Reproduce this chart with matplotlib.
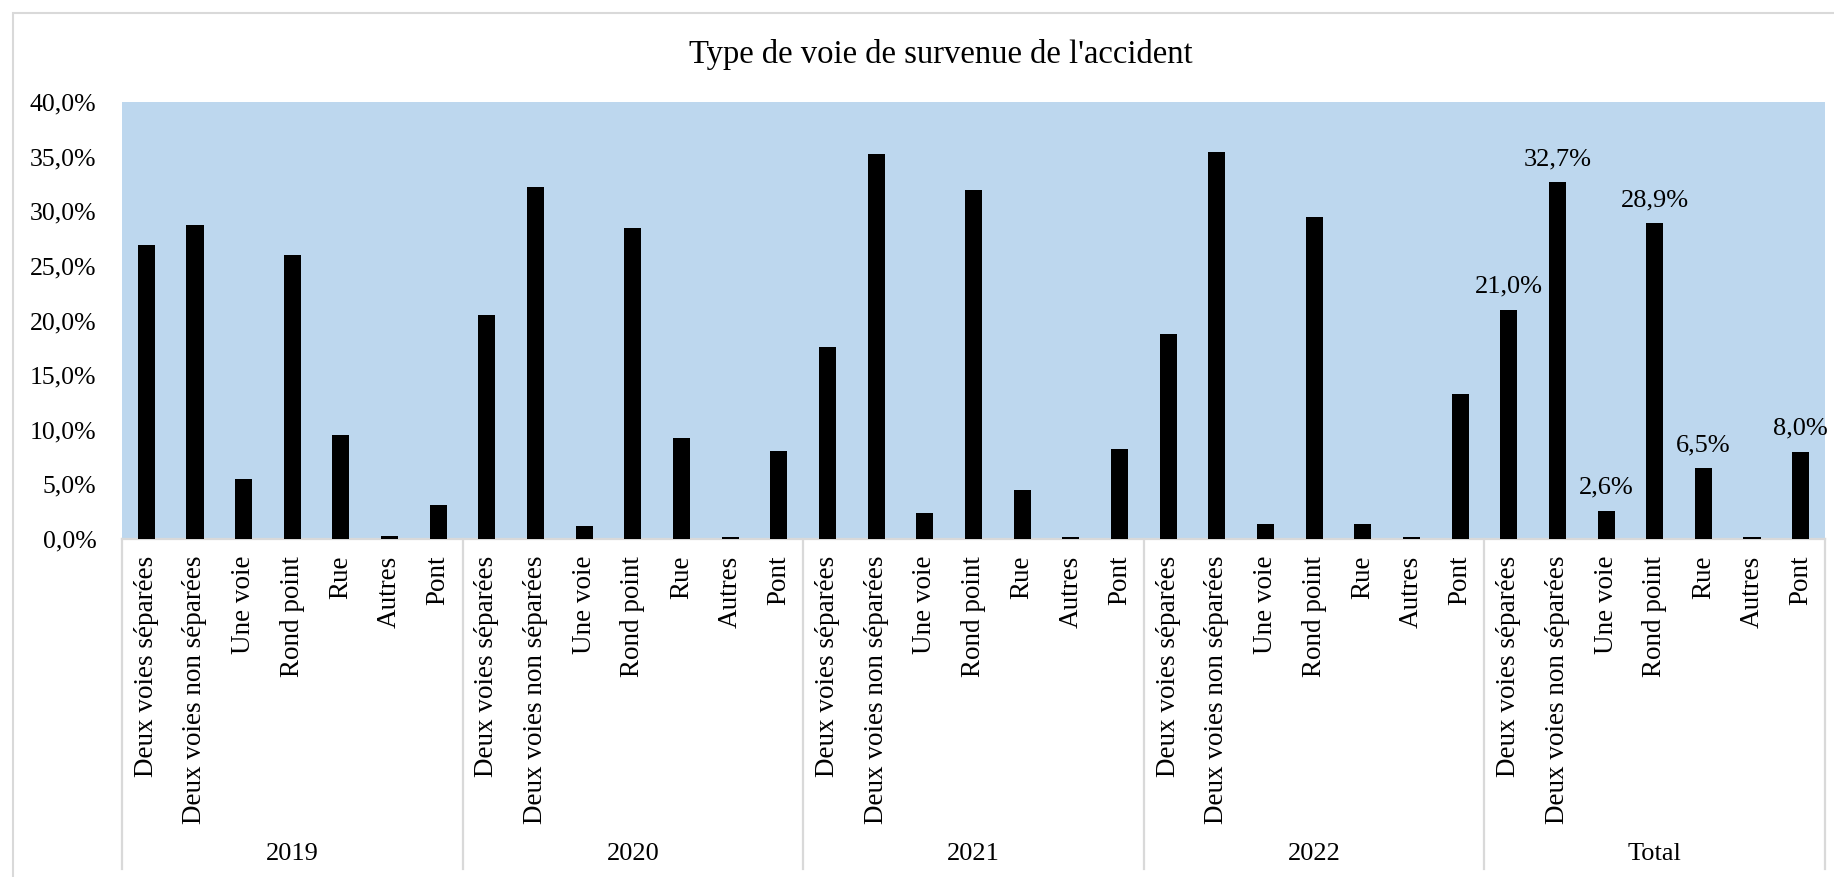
import numpy as np
import matplotlib.pyplot as plt
from matplotlib.patches import Rectangle
from matplotlib.ticker import FuncFormatter

# ---------------------------------------------------------------------------
# Données : répartition (%) des accidents selon le type de voie
# ---------------------------------------------------------------------------
categories = ['Deux voies séparées', 'Deux voies non séparées', 'Une voie',
              'Rond point', 'Rue', 'Autres', 'Pont']
annees = ['2019', '2020', '2021', '2022', 'Total']

v2019 = [26.9, 28.7, 5.5, 26.0, 9.5, 0.3, 3.1]
v2020 = [20.5, 32.2, 1.2, 28.5, 9.2, 0.2, 8.1]
v2021 = [17.6, 35.2, 2.4, 31.9, 4.5, 0.2, 8.2]
v2022 = [18.8, 35.4, 1.4, 29.5, 1.4, 0.2, 13.3]
v_total = [21.0, 32.7, 2.6, 28.9, 6.5, 0.2, 8.0]

# étiquettes de valeur affichées seulement pour le total (Autres omis)
etiq_total = [True, True, True, True, True, False, True]

# ---------------------------------------------------------------------------
plt.rcParams['font.family'] = ['Liberation Serif', 'DejaVu Serif']

series = [v2019, v2020, v2021, v2022, v_total]
valeurs = np.concatenate(series)
n_cat = len(categories)
x = np.arange(len(valeurs))
labels_x = categories * len(annees)

W, H, DPI = 1834, 877, 100
fig = plt.figure(figsize=(W / DPI, H / DPI), dpi=DPI)
ax = fig.add_axes([122 / W, 1 - 539 / H, (1825 - 122) / W, (539 - 102) / H])

ax.set_facecolor('#BDD7EE')
ax.bar(x, valeurs, width=0.35, color='black', zorder=3)

ax.set_xlim(-0.5, len(valeurs) - 0.5)
ax.set_ylim(0, 40)
ax.set_yticks(np.arange(0, 40.1, 5))
ax.yaxis.set_major_formatter(FuncFormatter(lambda v, p: f"{v:.1f}%".replace('.', ',')))
ax.tick_params(axis='y', length=0, pad=18.5, labelsize=18.5)

ax.set_xticks(x)
ax.set_xticklabels(labels_x, rotation=90, fontsize=19.5)
ax.tick_params(axis='x', length=0, pad=12)

for side in ['top', 'right', 'left']:
    ax.spines[side].set_visible(False)
ax.spines['bottom'].set_color('#D9D9D9')
ax.spines['bottom'].set_linewidth(1.6)

# séparateurs verticaux entre les années + libellés d'année
trans = ax.get_xaxis_transform()
y_bas = (539 - 869) / (539 - 102)
for k in range(len(annees) + 1):
    xs = k * n_cat - 0.5
    ax.plot([xs, xs], [0, y_bas], color='#D9D9D9', lw=1.6,
            transform=trans, clip_on=False)
for k, an in enumerate(annees):
    ax.text(k * n_cat + (n_cat - 1) / 2, (539 - 854) / (539 - 102), an,
            transform=trans, ha='center', va='center', fontsize=19)

# valeurs au-dessus des barres du total
debut = (len(annees) - 1) * n_cat
for i, (v, montrer) in enumerate(zip(v_total, etiq_total)):
    if montrer:
        ax.annotate(f"{v:.1f}%".replace('.', ','), (debut + i, v),
                    xytext=(0, 12), textcoords='offset points',
                    ha='center', va='baseline', fontsize=19)

fig.text(941 / W, 1 - 54 / H, "Type de voie de survenue de l'accident",
         ha='center', va='center', fontsize=23.5)

# cadre extérieur du graphique
fig.add_artist(Rectangle((13 / W, -0.02), 1.05, 1 - 13 / H + 0.02,
                         transform=fig.transFigure, fill=False,
                         edgecolor='#D9D9D9', lw=1.5))

fig.savefig('out.png', dpi=DPI, facecolor='white')
